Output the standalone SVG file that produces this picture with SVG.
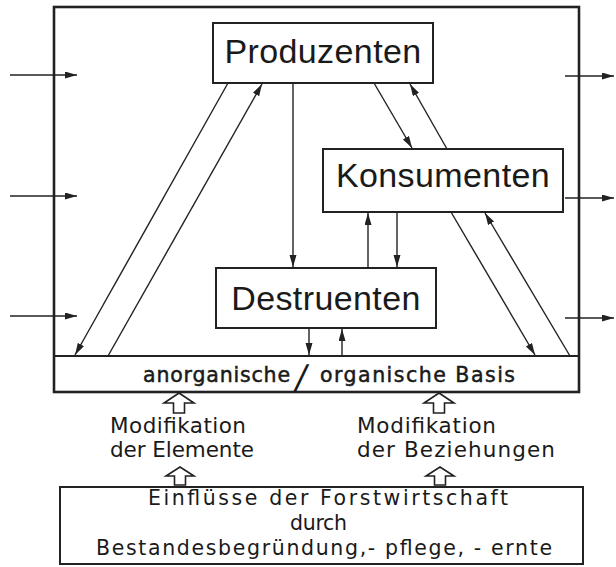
<svg xmlns="http://www.w3.org/2000/svg" width="616" height="567" viewBox="0 0 616 567">
<defs>
<style>
.box{fill:#fff;stroke:#222;stroke-width:2}
.outer{fill:none;stroke:#222;stroke-width:2.6}
.big{font-family:"Liberation Sans",Arial,sans-serif;font-size:34px;fill:#1a1a1a;text-anchor:middle;letter-spacing:0.4px}
.small{font-family:"DejaVu Sans","Liberation Sans",sans-serif;font-size:21.5px;fill:#1a1a1a}
.foot{font-family:"DejaVu Sans","Liberation Sans",sans-serif;font-size:20.5px;fill:#1a1a1a}
.basis{font-family:"DejaVu Sans","Liberation Sans",sans-serif;font-size:20.5px;fill:#1a1a1a;stroke:#1a1a1a;stroke-width:0.5}
.ln{fill:none;stroke:#222;stroke-width:1.4}
.hollow{fill:#fff;stroke:#222;stroke-width:1.6;stroke-linejoin:miter}
</style>
<marker id="ah" markerUnits="userSpaceOnUse" markerWidth="13" markerHeight="8" refX="12" refY="3.5" orient="auto">
<path d="M0,0 L12,3.5 L0,7 z" fill="#222"/>
</marker>
</defs>
<rect width="616" height="567" fill="#fff"/>

<g id="system">
<rect class="outer" x="54" y="7" width="525" height="385"/>
</g>

<g id="basis">
<line x1="54" y1="356" x2="579" y2="356" stroke="#222" stroke-width="2.2"/>
<text class="basis" x="143" y="382" textLength="147" lengthAdjust="spacing">anorganische</text>
<text transform="translate(293,392) skewX(-10)" x="0" y="-3" font-family="'DejaVu Sans',sans-serif" font-size="34" fill="#1a1a1a">/</text>
<text class="basis" x="320" y="382" textLength="195" lengthAdjust="spacing">organische Basis</text>
</g>

<g id="produzenten">
<rect class="box" x="213" y="23" width="220" height="60"/>
<text class="big" x="323" y="63">Produzenten</text>
</g>

<g id="konsumenten">
<rect class="box" x="323" y="149" width="240" height="63"/>
<text class="big" x="443" y="187">Konsumenten</text>
</g>

<g id="destruenten">
<rect class="box" x="216" y="268" width="220" height="60"/>
<text class="big" x="326" y="310">Destruenten</text>
</g>

<g id="connectors">
<line class="ln" x1="10" y1="75" x2="77" y2="75" marker-end="url(#ah)"/>
<line class="ln" x1="10" y1="196" x2="77" y2="196" marker-end="url(#ah)"/>
<line class="ln" x1="10" y1="316" x2="77" y2="316" marker-end="url(#ah)"/>
<line class="ln" x1="565" y1="76" x2="614" y2="76" marker-end="url(#ah)"/>
<line class="ln" x1="565" y1="198" x2="614" y2="198" marker-end="url(#ah)"/>
<line class="ln" x1="565" y1="318" x2="614" y2="318" marker-end="url(#ah)"/>
<line class="ln" x1="228" y1="83" x2="75" y2="355" marker-end="url(#ah)"/>
<line class="ln" x1="108" y1="356" x2="262" y2="84" marker-end="url(#ah)"/>
<line class="ln" x1="293" y1="83" x2="293" y2="267" marker-end="url(#ah)"/>
<line class="ln" x1="374" y1="83" x2="412" y2="148" marker-end="url(#ah)"/>
<line class="ln" x1="451" y1="212" x2="535" y2="355" marker-end="url(#ah)"/>
<line class="ln" x1="570" y1="356" x2="485" y2="213" marker-end="url(#ah)"/>
<line class="ln" x1="447" y1="149" x2="410" y2="84" marker-end="url(#ah)"/>
<line class="ln" x1="368" y1="268" x2="368" y2="213" marker-end="url(#ah)"/>
<line class="ln" x1="397" y1="212" x2="397" y2="267" marker-end="url(#ah)"/>
<line class="ln" x1="309" y1="328" x2="309" y2="355" marker-end="url(#ah)"/>
<line class="ln" x1="342" y1="356" x2="342" y2="329" marker-end="url(#ah)"/>
<path class="hollow" d="M179,393 L194,403 L184.5,403 L184.5,413 L173.5,413 L173.5,403 L164,403 Z"/>
<path class="hollow" d="M439,393 L454,403 L444.5,403 L444.5,413 L433.5,413 L433.5,403 L424,403 Z"/>
<path class="hollow" d="M180,467 L194,476 L185.5,476 L185.5,485 L174.5,485 L174.5,476 L166,476 Z"/>
<path class="hollow" d="M440,467 L454,476 L445.5,476 L445.5,485 L434.5,485 L434.5,476 L426,476 Z"/>
</g>

<g id="mod-elemente">
<text class="small" x="110" y="433" textLength="136" lengthAdjust="spacing">Modifikation</text>
<text class="small" x="110" y="457" textLength="144" lengthAdjust="spacing">der Elemente</text>
</g>

<g id="mod-beziehungen">
<text class="small" x="357" y="433" textLength="139" lengthAdjust="spacing">Modifikation</text>
<text class="small" x="357" y="457" textLength="198" lengthAdjust="spacing">der Beziehungen</text>
</g>

<g id="forstwirtschaft">
<rect class="box" x="60" y="487" width="523" height="77" stroke-width="1.8"/>
<text class="foot" x="148" y="505" textLength="360" lengthAdjust="spacing">Einflüsse der Forstwirtschaft</text>
<text class="foot" x="290" y="530" textLength="57" lengthAdjust="spacing">durch</text>
<text class="foot" x="96" y="555" textLength="456" lengthAdjust="spacing">Bestandesbegründung,- pflege, - ernte</text>
</g>
</svg>
